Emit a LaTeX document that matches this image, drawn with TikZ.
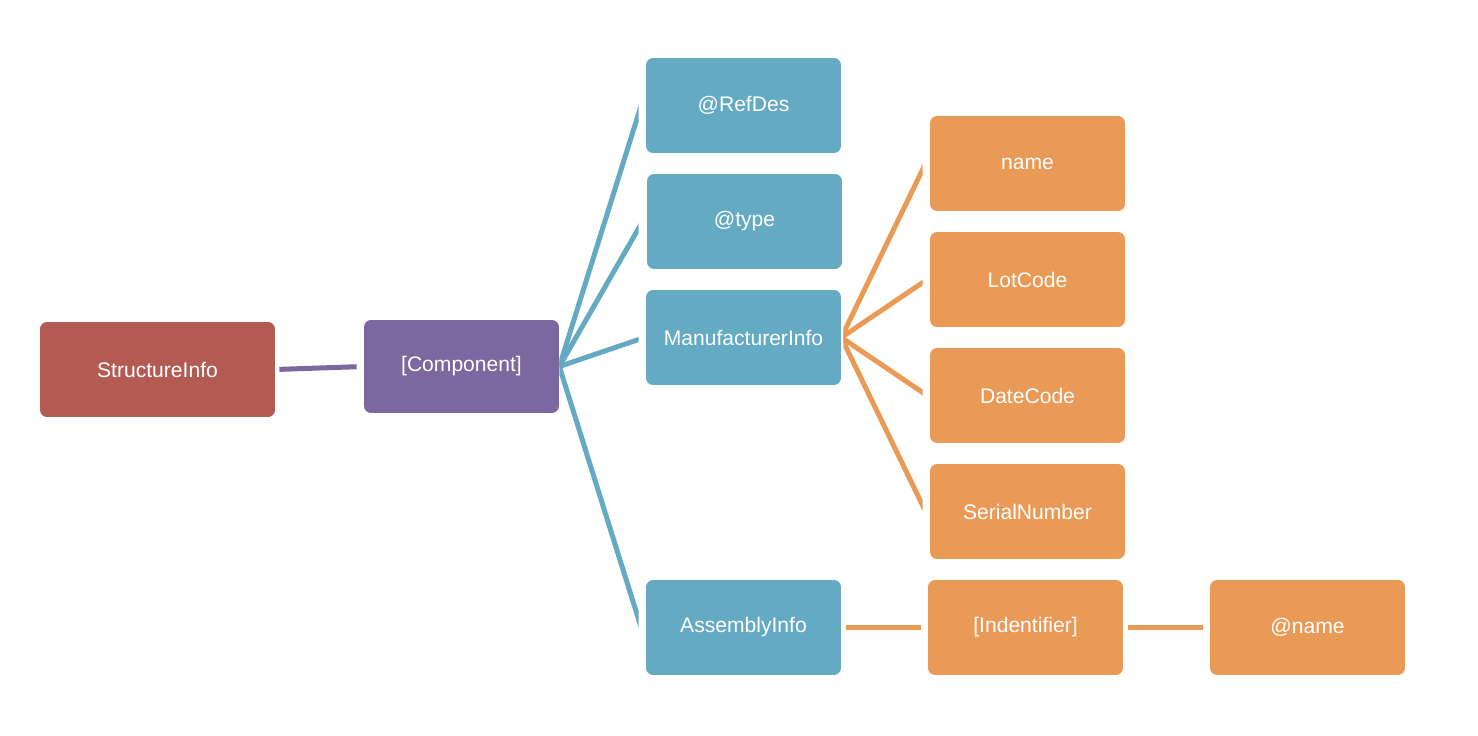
\documentclass[tikz,border=0pt]{standalone}
\usepackage{fontspec}
\setmainfont{Liberation Sans}
\definecolor{rootRed}{RGB}{179,90,82}
\definecolor{compPurple}{RGB}{125,103,159}
\definecolor{infoBlue}{RGB}{100,170,195}
\definecolor{leafOrange}{RGB}{234,154,87}
\begin{document}
\begin{tikzpicture}
[x=0.02cm,y=-0.02cm,%
  boxDecorate/.style={shape=rectangle,rounded corners=0.14cm,text=white,
    font=\fontsize{12}{14}\selectfont,minimum width=3.9cm,minimum height=1.9cm,inner sep=0pt},%
  purpleLine/.style={line width=0.1cm,color=compPurple},%
  blueLine/.style={line width=0.1cm,color=infoBlue,shorten >=-0.2cm},%
  orangeLine/.style={line width=0.1cm,color=leafOrange}]
\useasboundingbox (0,0) rectangle (1478,736);
%% nodes or boxes
\node (structinfo) at (157.5,369.5) [boxDecorate,fill=rootRed,minimum width=4.7cm] {StructureInfo};
\node (component) at (461.5,366.5) [boxDecorate,fill=compPurple,minimum height=1.86cm] {[Component]};
\foreach \nodename/\x/\y/\txt in {refdes/743.5/105.5/@RefDes, type/744.5/221.5/@type,
  manuinfo/743.5/337.5/ManufacturerInfo, asseminfo/743.5/627.5/AssemblyInfo}
{
  \node (\nodename) at (\x,\y) [boxDecorate,fill=infoBlue] {\txt};
}
\foreach \nodename/\x/\y/\txt in {name/1027.5/163.5/name, lotcode/1027.5/279.5/LotCode,
  datecode/1027.5/395.5/DateCode, serial/1027.5/511.5/SerialNumber,
  ident/1025.5/627.5/{[Indentifier]}, atname/1307.5/627.5/@name}
{
  \node (\nodename) at (\x,\y) [boxDecorate,fill=leafOrange] {\txt};
}
%% edges or lines
\draw[purpleLine,shorten <=0.08cm,shorten >=0.14cm] (structinfo.east) -- (component.west);
%% fan of blue lines, cut off square short of the boxes
\begin{scope}
\clip (component.east |- 0,0) rectangle ([xshift=-0.14cm]refdes.west |- 0,736);
\path
\foreach \endnode/\dy in {refdes/-0.16, type/-0.1, manuinfo/-0.04, asseminfo/0.16}
{
  (component.east) edge[blueLine] ([xshift=-0.14cm,yshift=\dy cm]\endnode.west)
};
\end{scope}
%% fan of orange lines
\begin{scope}
\clip ([xshift=0.04cm]manuinfo.east |- 0,0) rectangle ([xshift=-0.14cm]name.west |- 0,736);
\path
\foreach \endnode/\dy in {name/-0.12, lotcode/-0.06, datecode/0.06, serial/0.12}
{
  (manuinfo.east) edge[orangeLine,shorten >=-0.2cm] ([xshift=-0.14cm,yshift=\dy cm]\endnode.west)
};
\end{scope}
\path
\foreach \startnode/\endnode in {asseminfo/ident, ident/atname}
{
  (\startnode.east) edge[orangeLine,shorten <=0.1cm,shorten >=0.14cm] (\endnode.west)
};
\end{tikzpicture}
\end{document}
